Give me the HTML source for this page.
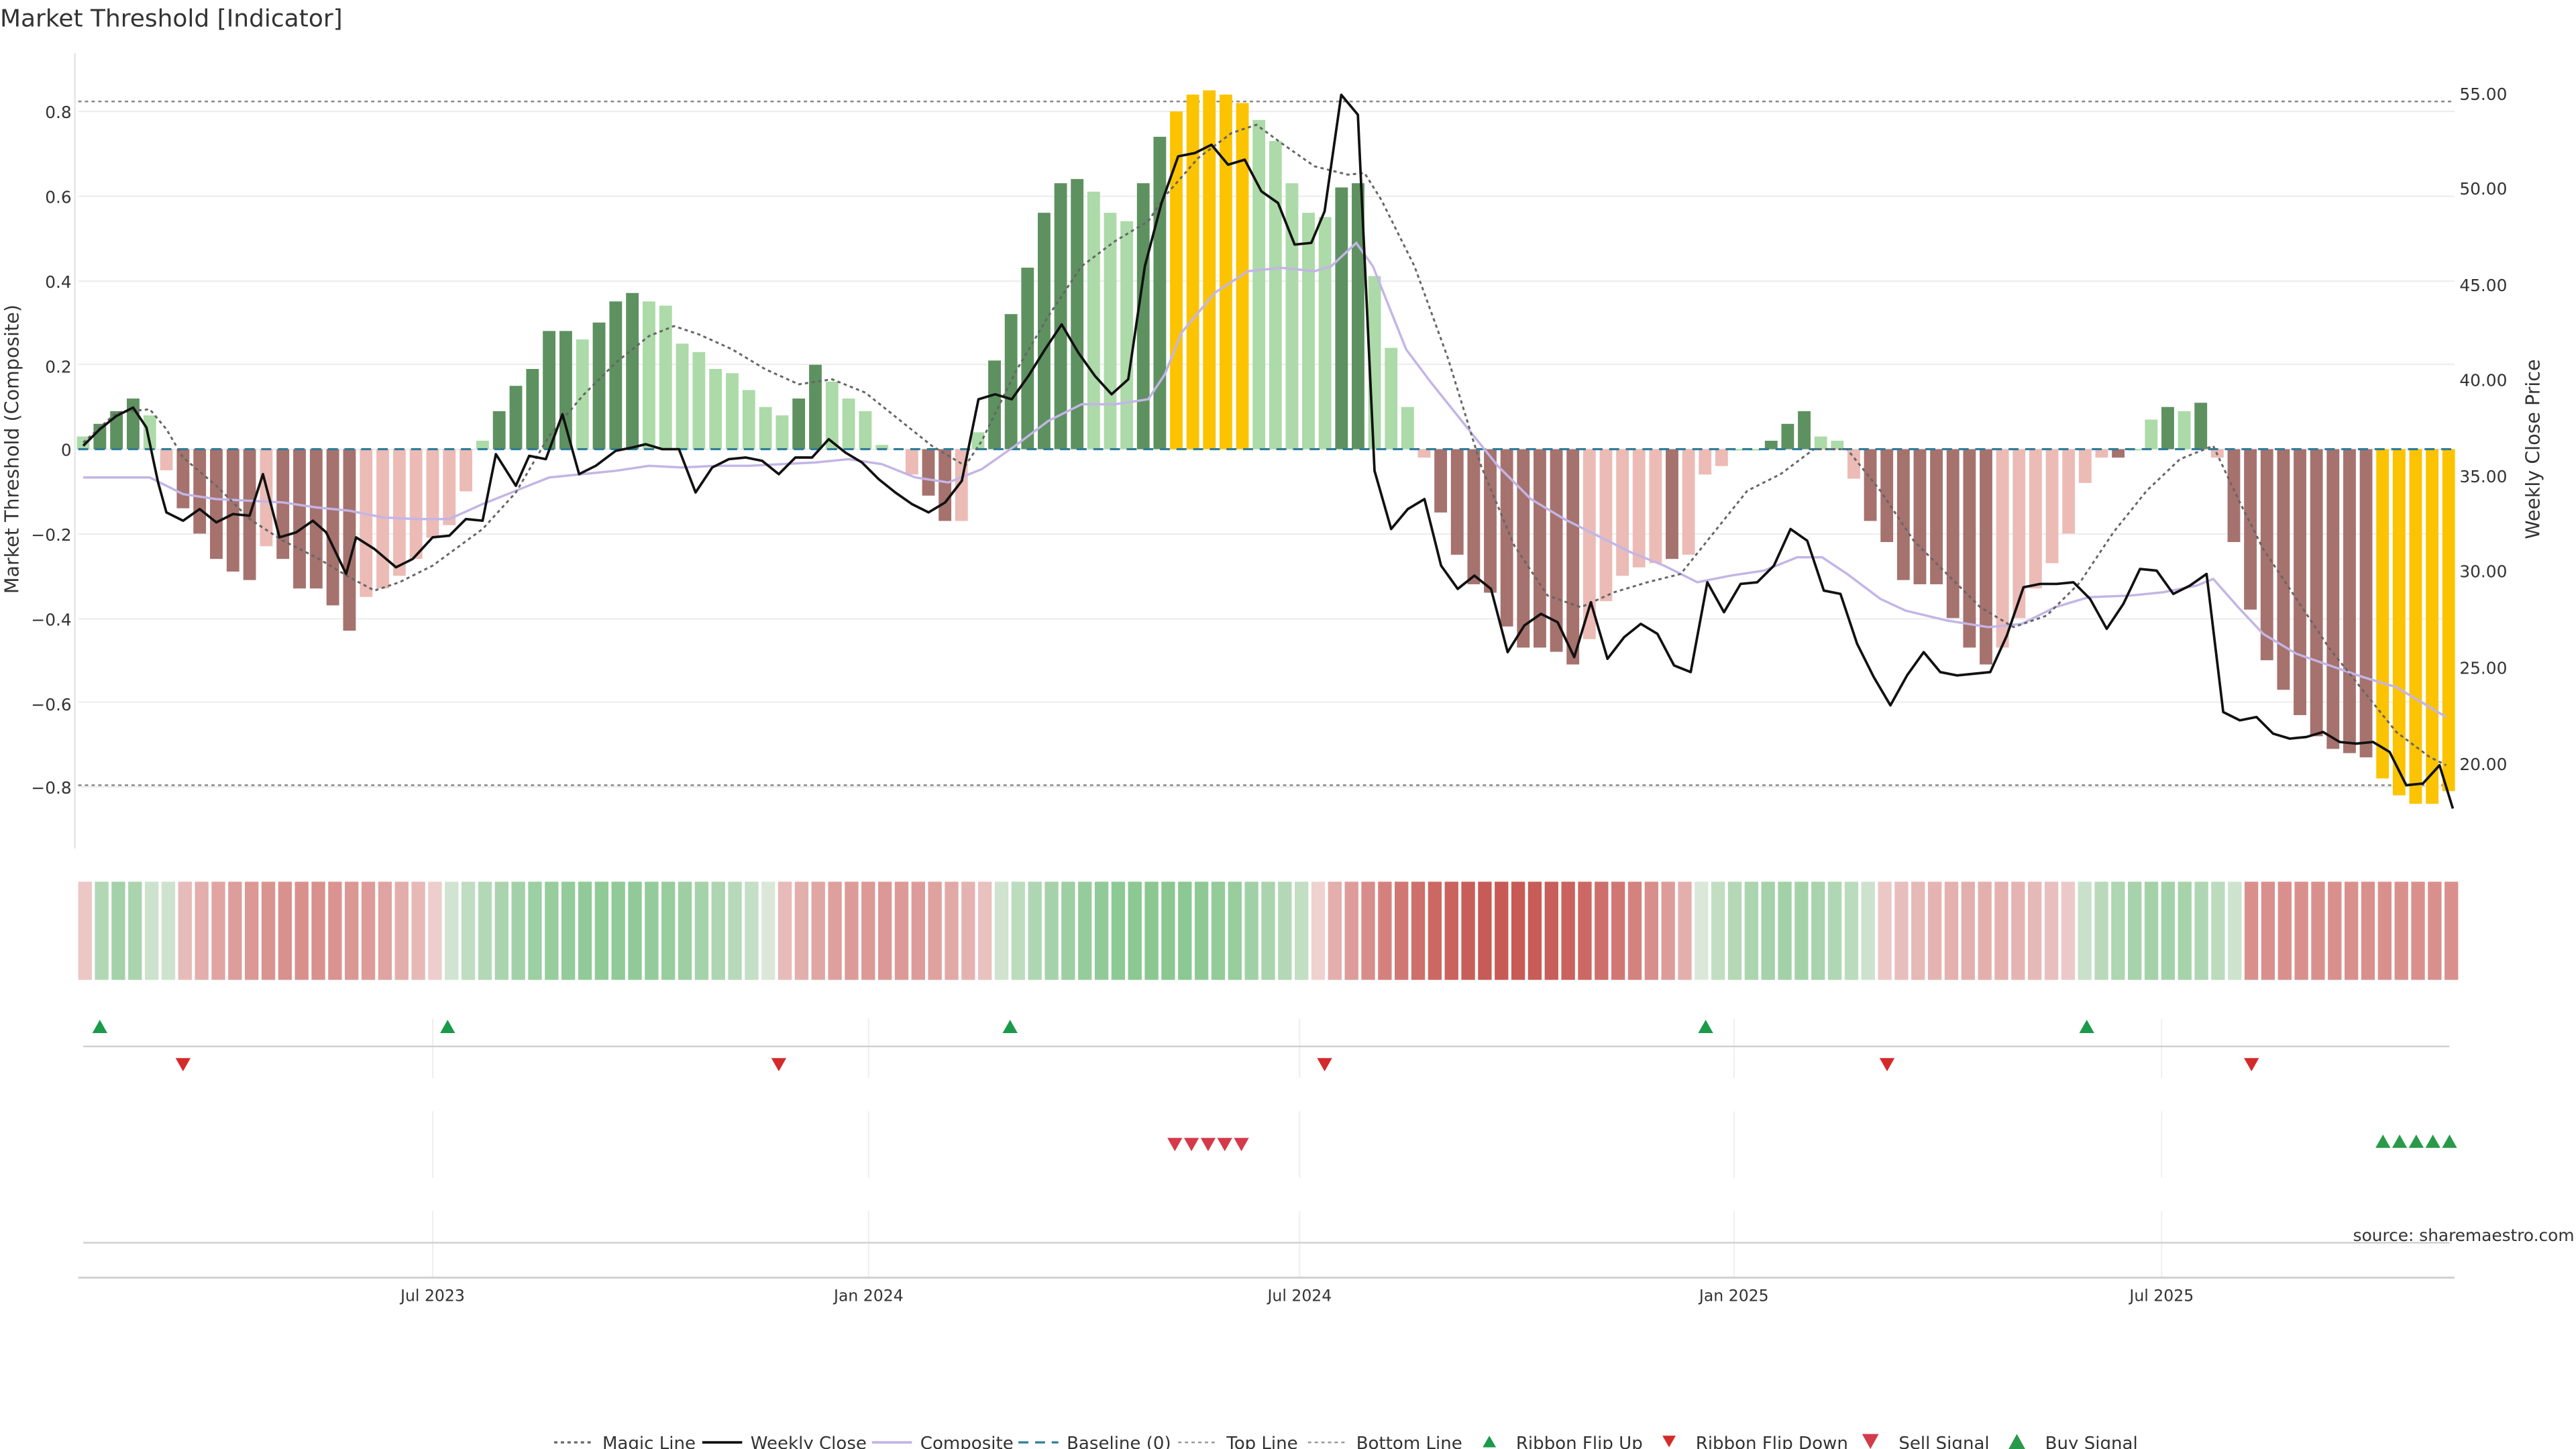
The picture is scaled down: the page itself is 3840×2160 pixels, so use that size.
<!DOCTYPE html>
<html><head><meta charset="utf-8"><style>
html,body{margin:0;padding:0;background:#fff;}
svg{display:block;}
text{font-family:"DejaVu Sans","Liberation Sans",sans-serif;fill:#333;}
</style></head><body>
<svg id="s" width="3840" height="2160" viewBox="0 0 1548 871" preserveAspectRatio="none" xmlns="http://www.w3.org/2000/svg">
<rect width="1548" height="871" fill="#fff"/>
<text x="0" y="16" font-size="14.5" fill="#333">Market Threshold [Indicator]</text>
<g id="grid" stroke="#ececec" stroke-width="0.8"></g>
<line x1="45" y1="32" x2="45" y2="510" stroke="#e6e6e6" stroke-width="1"/>
<g font-size="10" text-anchor="end">
<text x="43" y="71">0.8</text><text x="43" y="122">0.6</text><text x="43" y="173">0.4</text><text x="43" y="224">0.2</text><text x="43" y="274">0</text><text x="43" y="325">−0.2</text><text x="43" y="376">−0.4</text><text x="43" y="427">−0.6</text><text x="43" y="477">−0.8</text>
</g>
<g font-size="10" text-anchor="start">
<text x="1478" y="60">55.00</text><text x="1478" y="117">50.00</text><text x="1478" y="175">45.00</text><text x="1478" y="232">40.00</text><text x="1478" y="290">35.00</text><text x="1478" y="347">30.00</text><text x="1478" y="405">25.00</text><text x="1478" y="463">20.00</text>
</g>
<text font-size="11.5" text-anchor="middle" transform="translate(11,270) rotate(-90)">Market Threshold (Composite)</text>
<text font-size="11.5" text-anchor="middle" transform="translate(1526,270) rotate(-90)">Weekly Close Price</text>
<line x1="47" y1="61" x2="1475" y2="61" stroke="#888" stroke-width="1" stroke-dasharray="2,2"/>
<line x1="47" y1="472" x2="1475" y2="472" stroke="#888" stroke-width="1" stroke-dasharray="2,2"/>
<g id="bars"></g>
<line x1="47" y1="270" x2="1475" y2="270" stroke="#2e7d9a" stroke-width="1.3" stroke-dasharray="6,4"/>
<polyline id="comp" fill="none" stroke="#c3b5e6" stroke-width="1.4"/>
<polyline id="magic" fill="none" stroke="#666" stroke-width="1.2" stroke-dasharray="2,2"/>
<polyline id="close" fill="none" stroke="#111" stroke-width="1.5" stroke-linejoin="round"/>
<g id="rib"></g>
<g id="vg" stroke="#eeeeee" stroke-width="0.8"></g>
<line x1="50" y1="629" x2="1472" y2="629" stroke="#d0d0d0" stroke-width="1"/>
<line x1="50" y1="747" x2="1472" y2="747" stroke="#d0d0d0" stroke-width="1"/>
<line x1="47" y1="768" x2="1475" y2="768" stroke="#d0d0d0" stroke-width="1.2"/>
<g id="sig"></g>
<g font-size="9.5" text-anchor="middle">
<text x="260" y="782">Jul 2023</text><text x="522" y="782">Jan 2024</text><text x="781" y="782">Jul 2024</text><text x="1042" y="782">Jan 2025</text><text x="1299" y="782">Jul 2025</text>
</g>
<text x="1547" y="746" font-size="10" text-anchor="end" fill="#999">source: sharemaestro.com</text>
<g font-size="10.5">
<line x1="333" y1="867" x2="357" y2="867" stroke="#666" stroke-width="1.3" stroke-dasharray="2,2"/><text x="362" y="871">Magic Line</text>
<line x1="422" y1="867" x2="446" y2="867" stroke="#111" stroke-width="1.5"/><text x="451" y="871">Weekly Close</text>
<line x1="524" y1="867" x2="548" y2="867" stroke="#c3b5e6" stroke-width="1.5"/><text x="553" y="871">Composite</text>
<line x1="612" y1="867" x2="636" y2="867" stroke="#2e7d9a" stroke-width="1.3" stroke-dasharray="6,4"/><text x="641" y="871">Baseline (0)</text>
<line x1="708" y1="867" x2="732" y2="867" stroke="#999" stroke-width="1" stroke-dasharray="2,2"/><text x="737" y="871">Top Line</text>
<line x1="786" y1="867" x2="810" y2="867" stroke="#999" stroke-width="1" stroke-dasharray="2,2"/><text x="815" y="871">Bottom Line</text>
<polygon points="891,870 899,870 895,863" fill="#1a9a4a"/><text x="911" y="871">Ribbon Flip Up</text>
<polygon points="999,863 1007,863 1003,870" fill="#d42a2a"/><text x="1019" y="871">Ribbon Flip Down</text>
<polygon points="1119,862 1129,862 1124,871" fill="#d43a4a"/><text x="1141" y="871">Sell Signal</text>
<polygon points="1207,871 1217,871 1212,862" fill="#2a9a4a"/><text x="1229" y="871">Buy Signal</text>
</g>
</svg>
<script>
(function(){
var NS="http://www.w3.org/2000/svg";
function el(p,t,a){var e=document.createElementNS(NS,t);for(var k in a)e.setAttribute(k,a[k]);document.getElementById(p).appendChild(e);return e;}
[67,118,169,219,270,321,372,422,473].forEach(function(y){el("grid","line",{x1:47,x2:1475,y1:y,y2:y});});
var d="g.03 G.06 G.09 G.12 g.08 p-.05 R-.14 R-.2 R-.26 R-.29 R-.31 p-.23 R-.26 R-.33 R-.33 R-.37 R-.43 p-.35 p-.33 p-.3 p-.26 p-.21 p-.18 p-.1 g.02 G.09 G.15 G.19 G.28 G.28 g.26 G.30 G.35 G.37 g.35 g.34 g.25 g.23 g.19 g.18 g.14 g.10 g.08 G.12 G.20 g.16 g.12 g.09 g.01 p-.06 R-.11 R-.17 p-.17 g.04 G.21 G.32 G.43 G.56 G.63 G.64 g.61 g.56 g.54 G.63 G.74 Y.8 Y.84 Y.85 Y.84 Y.82 g.78 g.73 g.63 g.56 g.55 G.62 G.63 g.41 g.24 g.10 p-.02 R-.15 R-.25 R-.32 R-.34 R-.42 R-.47 R-.47 R-.48 R-.51 p-.45 p-.36 p-.3 p-.28 p-.27 R-.26 p-.25 p-.06 p-.04 g.0 g.0 G.02 G.06 G.09 g.03 g.02 p-.07 R-.17 R-.22 R-.31 R-.32 R-.32 R-.4 R-.47 R-.51 p-.47 p-.4 p-.33 p-.27 p-.2 p-.08 p-.02 R-.02 g.0 g.07 G.1 g.09 G.11 p-.02 R-.22 R-.38 R-.5 R-.57 R-.63 R-.68 R-.71 R-.72 R-.73 Y-.78 Y-.82 Y-.84 Y-.84 Y-.81".split(" ");
var col={G:"#5e9160",g:"#acdaa8",R:"#a6726e",p:"#ecbbb6",Y:"#fcc300"};
d.forEach(function(s,i){var t=s[0],v=parseFloat(s.slice(1));var x=i<49?50+i*10:548+(i-49)*9.93;
var y0=270,y1=270-v*253.75;var top=Math.min(y0,y1),h=Math.max(Math.abs(y1-y0),0.8);
el("bars","rect",{x:x-3.8,y:top,width:7.6,height:h,fill:col[t]});});
function pl(id,a){document.getElementById(id).setAttribute("points",a.map(function(p){return p[0]+","+p[1];}).join(" "));}
pl("close",[[50,268],[60,258],[70,250],[80,245],[88,257],[95,290],[100,308],[110,313],[120,306],[130,314],[140,309],[150,310],[158,285],[168,323],[178,320],[188,313],[196,320],[208,345],[214,323],[225,330],[238,341],[248,336],[260,323],[270,322],[280,312],[290,313],[298,273],[310,292],[318,274],[328,276],[338,249],[348,285],[358,280],[370,271],[380,269],[388,267],[398,270],[408,270],[418,296],[428,281],[438,276],[448,275],[458,277],[468,285],[478,275],[488,275],[498,264],[508,272],[518,278],[528,288],[538,296],[548,303],[558,308],[568,302],[578,289],[588,240],[598,237],[608,240],[618,226],[628,210],[638,195],[648,212],[658,226],[668,237],[678,228],[688,160],[698,122],[708,94],[718,92],[728,87],[738,99],[748,96],[758,115],[768,122],[778,147],[788,146],[796,127],[806,57],[816,69],[826,283],[836,318],[846,306],[856,300],[866,340],[876,354],[886,346],[896,354],[906,392],[916,376],[926,369],[936,374],[946,395],[956,362],[966,396],[976,383],[986,375],[996,381],[1006,400],[1016,404],[1026,350],[1036,368],[1046,351],[1056,350],[1066,340],[1076,318],[1086,325],[1096,355],[1106,357],[1116,387],[1126,407],[1136,424],[1146,406],[1156,392],[1166,404],[1176,406],[1186,405],[1196,404],[1206,382],[1216,353],[1226,351],[1236,351],[1246,350],[1256,360],[1266,378],[1276,363],[1286,342],[1296,343],[1306,357],[1316,352],[1326,345],[1336,428],[1346,433],[1356,431],[1366,441],[1376,444],[1386,443],[1396,440],[1406,446],[1416,447],[1426,446],[1436,452],[1446,472],[1456,471],[1466,460],[1474,486]]);
pl("comp",[[50,287],[90,287],[110,297],[130,300],[150,301],[170,302],[190,305],[210,307],[230,311],[250,312],[270,312],[290,303],[310,295],[330,287],[350,285],[370,283],[390,280],[410,281],[430,280],[450,280],[470,279],[490,278],[510,276],[530,279],[550,287],[570,290],[590,282],[610,268],[630,253],[650,243],[670,243],[690,240],[700,225],[710,200],[730,176],[750,163],[770,161],[790,163],[800,160],[815,146],[825,160],[835,185],[845,210],[860,230],[880,255],[900,280],[920,300],[940,312],[960,322],[980,332],[1000,340],[1020,350],[1040,346],[1060,343],[1080,335],[1095,335],[1110,345],[1130,360],[1145,367],[1170,373],[1195,377],[1215,375],[1235,365],[1255,359],[1280,358],[1300,356],[1320,352],[1330,348],[1345,365],[1360,381],[1380,393],[1400,400],[1420,407],[1440,413],[1460,425],[1470,431]]);
pl("magic",[[50,266],[70,248],[90,246],[100,258],[110,275],[130,292],[150,312],[170,325],[190,335],[210,347],[225,355],[240,350],[260,340],[290,318],[310,296],[330,262],[350,238],[370,218],[390,202],[405,196],[420,201],[440,210],[460,222],[480,231],[500,228],[520,236],[540,252],[560,268],[580,280],[590,265],[610,224],[630,190],[650,160],[670,145],[690,133],[700,118],[720,95],[740,80],[755,75],[770,86],[790,100],[810,105],[820,104],[830,120],[850,160],[870,215],[890,280],[910,328],[930,358],[950,365],[970,356],[990,350],[1010,345],[1030,320],[1050,295],[1070,285],[1090,270],[1110,270],[1130,295],[1150,325],[1170,345],[1190,365],[1210,377],[1230,370],[1250,350],[1270,320],[1290,295],[1310,276],[1330,268],[1345,300],[1360,330],[1380,360],[1400,390],[1420,415],[1440,440],[1460,455],[1470,460]]);
// ribbon (uniform spacing)
var seg=[[40,52,-1,.3],[52,93,1,.7],[93,102,1,.35],[102,262,-1,.65],[262,268,-1,.25],[268,462,1,.85],[462,598,-1,.6],[598,792,1,.9],[792,1022,-1,1],[1022,1127,1,.7],[1127,1247,-1,.45],[1247,1347,1,.7],[1347,1480,-1,.65]];
var GS=[125,194,134],RS=[199,90,85],W=[250,245,245];
for(var i=0;i<143;i++){var x=51+i*(1473-51)/142;var s=null;for(var j=0;j<seg.length;j++)if(x>=seg[j][0]&&x<seg[j][1]){s=seg[j];break;}if(!s)s=seg[0];
var f=(x-s[0])/(s[1]-s[0]);var t=.22+(s[3]-.22)*Math.pow(Math.sin(Math.PI*f),0.6);if(s[3]<.4)t=s[3];
if(s===seg[12])t=s[3];
var c=s[2]>0?GS:RS;var r=c.map(function(v,k){return Math.round(W[k]+(v-W[k])*t);});
el("rib","rect",{x:x-4,y:530,width:8.2,height:59,fill:"rgb("+r.join(",")+")"});}
[260,522,781,1042,1299].forEach(function(x){[[612,648],[668,708],[728,768]].forEach(function(r){el("vg","line",{x1:x,x2:x,y1:r[0],y2:r[1]});});});
function up(x,y,c){el("sig","polygon",{points:(x-4.5)+","+(y+4)+" "+(x+4.5)+","+(y+4)+" "+x+","+(y-4),fill:c});}
function dn(x,y,c){el("sig","polygon",{points:(x-4.5)+","+(y-4)+" "+(x+4.5)+","+(y-4)+" "+x+","+(y+4),fill:c});}
[60,269,607,1025,1254].forEach(function(x){up(x,617,"#1a9a4a");});
[110,468,796,1134,1353].forEach(function(x){dn(x,640,"#d42a2a");});
[706,716,726,736,746].forEach(function(x){dn(x,688,"#d43a4a");});
[1432,1442,1452,1462,1472].forEach(function(x){up(x,686,"#2a9a4a");});
})();
</script>
</body></html>
